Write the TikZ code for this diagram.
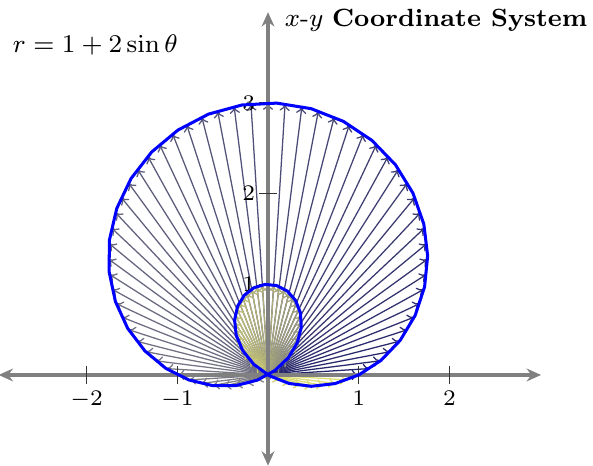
\documentclass[tikz,border=0pt]{standalone}
\usetikzlibrary{arrows.meta}
\definecolor{cNavy}{rgb}{0.14,0.14,0.42}
\definecolor{cGray}{rgb}{0.47,0.47,0.52}
\definecolor{cYellow}{rgb}{0.88,0.88,0.44}
\definecolor{axisgray}{rgb}{0.5,0.5,0.5}
\tikzset{
  ray/.style={line width=0.4pt,-{To[length=2.2pt,width=3.2pt]}},
  axisline/.style={draw=axisgray,line width=1pt,{Stealth[length=4.5pt,width=4pt]}-{Stealth[length=4.5pt,width=4pt]}},
  tickmark/.style={draw=black!80,line width=0.4pt},
  ticklabel/.style={font=\scriptsize,inner sep=1pt},
  curve/.style={draw=blue,line width=0.95pt,line join=round},
  title/.style={font=\fontsize{7.8}{9}\selectfont,inner sep=0pt}
}
\begin{document}
\begin{tikzpicture}
\useasboundingbox (-2.955,-1.003) rectangle (3.583,4.134);
\coordinate (O) at (0,0);
% rays
\foreach \i in {0,...,99}{
  \pgfmathsetmacro\t{3.6*\i}
  \pgfmathsetmacro\r{1+2*sin(\t)}
  \pgfmathtruncatemacro\p{\i<50 ? 100-2*\i : 200-2*\i}
  \ifnum\i<50 \def\cc{cNavy!\p!cGray}\else\def\cc{cGray!\p!cYellow}\fi
  \coordinate (P\i) at ({\r*cos(\t)},{\r*sin(\t)});
  \draw[ray,color=\cc] (O) -- (P\i);
}
% axes
\coordinate (xl) at (-2.97,0);
\coordinate (xr) at (3.01,0);
\coordinate (yb) at (0,-1.0);
\coordinate (yt) at (0,4.0);
\draw[axisline] (xl) -- (xr);
\draw[axisline] (yb) -- (yt);
% ticks
\foreach \x in {-2,-1,1,2}{
  \draw[tickmark] (\x,0.1) -- (\x,-0.1) node[ticklabel,below=1pt] (tx\x) {$\x$};
}
\foreach \y in {1,2,3}{
  \draw[tickmark] (0.1,\y) -- (-0.1,\y) node[ticklabel,left] (ty\y) {$\y$};
}
% curve
\draw[curve] plot[domain=0:360,samples=50,variable=\t] ({(1+2*sin(\t))*cos(\t)},{(1+2*sin(\t))*sin(\t)}) -- cycle;
% labels
\node[title,anchor=base west] (ttl) at (0.18,3.84) {$x$-$y$ \textbf{Coordinate System}};
\node[title,anchor=base west] (eq) at (-2.82,3.55) {$r = 1 + 2\sin\theta$};
\end{tikzpicture}
\end{document}
